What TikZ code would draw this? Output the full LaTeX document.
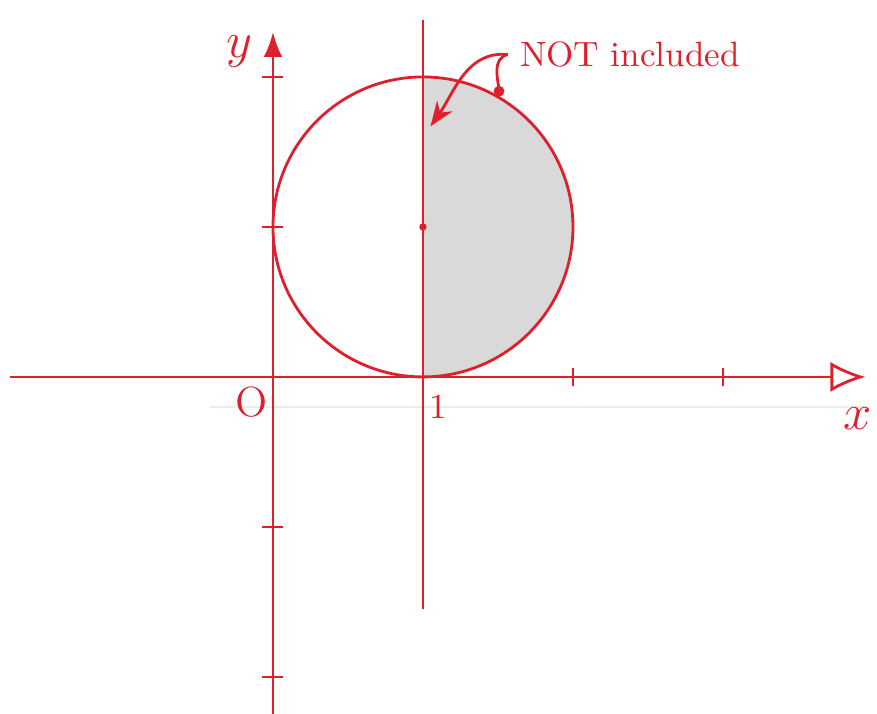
\documentclass[tikz,border=0pt]{standalone}
\usepackage{tikz}
\usetikzlibrary{arrows.meta, positioning}
\definecolor{penred}{RGB}{222,32,44}

\begin{document}
\begin{tikzpicture}[x=1.5cm, y=1.5cm]
  \useasboundingbox (-1.82,-2.247) rectangle (4.027,2.513);

  % Shaded half disc (x >= 1)
  \fill[gray!30] (1,0) arc (-90:90:1) -- cycle;

  % Faint rule line of the paper
  \draw[gray!15] (-0.42,-0.2) -- (3.95,-0.2);

  % Axes
  \draw[penred, thick, -{Latex[open, length=3.5mm, width=3mm]}] (-1.75,0) -- (3.95,0);
  \draw[penred, thick, -{Latex[length=2.5mm]}] (0,-2.25) -- (0,2.3);

  % Ticks
  \foreach \t in {2,3}
    \draw[penred, thick] (\t,0.06) -- (\t,-0.06);
  \foreach \t in {-2,-1,1,2}
    \draw[penred, thick] (-0.07,\t) -- (0.07,\t);

  % Circle and line x = 1
  \draw[penred, thick] (1,1) circle (1);
  \draw[penred, thick] (1,2.38) -- (1,-1.55);
  \fill[penred] (1,1) circle (0.025);

  % Labels
  \node[penred, font=\Large] (ylab) at (-0.22,2.17) {$y$};
  \node[penred, font=\Large] (xlab) at (3.9,-0.28) {$x$};
  \node[penred, font=\large] (olab) at (-0.14,-0.17) {O};
  \node[penred] (onelab) at (1.1,-0.2) {1};

  % Note with arrows
  \node[penred] (note) at (2.38,2.15) {NOT included};
  \coordinate (online) at (1.05,1.67);
  \coordinate (oncircle) at (1.51,1.87);
  \draw[penred, thick, -{Stealth[length=2.5mm]}] (note.west) to[out=175, in=55] (online);
  \draw[penred, thick, -{Circle[length=3pt]}] (note.west) to[out=195, in=95] (oncircle);
\end{tikzpicture}
\end{document}
